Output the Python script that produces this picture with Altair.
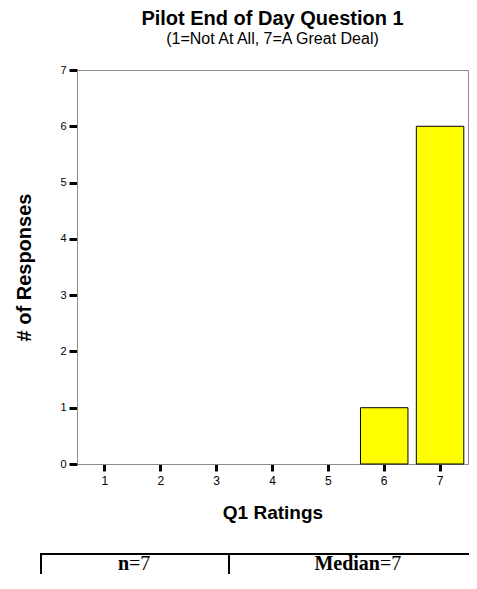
import altair as alt
import pandas as pd

# ---- data ----
ratings = ["1", "2", "3", "4", "5", "6", "7"]
counts = [0, 0, 0, 0, 0, 1, 6]
y_ticks = [0, 1, 2, 3, 4, 5, 6, 7]
title_text = "Pilot End of Day Question 1"
subtitle_text = "(1=Not At All, 7=A Great Deal)"
x_title = "Q1 Ratings"
y_title = "# of Responses"
n_label = "n"
median_label = "Median"
n_value = 7
median_value = 7

df = pd.DataFrame({"rating": ratings, "count": counts})
one = pd.DataFrame({"k": [0]})

W, H = 391, 394
SANS = "Liberation Sans"
SERIF = "Liberation Serif"
GREY = "#8c8c8c"

bars = (
    alt.Chart(df)
    .transform_filter("datum.count > 0")
    .mark_bar(color="#FFFF00", stroke="black", strokeWidth=1)
    .encode(
        x=alt.X(
            "rating:O",
            scale=alt.Scale(domain=ratings, paddingInner=0.15, paddingOuter=0.075),
            axis=alt.Axis(
                title=x_title,
                labelAngle=0,
                labelFontSize=12,
                labelPadding=4,
                tickSize=7,
                titlePadding=17,
                titleFontSize=19,
            ),
        ),
        y=alt.Y(
            "count:Q",
            scale=alt.Scale(domain=[0, 7], nice=False),
            axis=alt.Axis(
                title=y_title,
                values=y_ticks,
                format="d",
                labelFontSize=11,
                labelPadding=3,
                tickSize=8,
                titlePadding=25,
                titleFontSize=20,
            ),
        ),
    )
)

lw = 2
LINE_Y = 484
hline = alt.Chart(one).mark_rule(color="black", strokeWidth=lw).encode(
    x=alt.value(-36), x2=alt.value(W + 20), y=alt.value(LINE_Y)
)
vleft = alt.Chart(one).mark_rule(color="black", strokeWidth=lw).encode(
    x=alt.value(-36), y=alt.value(LINE_Y - 1), y2=alt.value(H + 140)
)
vmid = alt.Chart(one).mark_rule(color="black", strokeWidth=lw).encode(
    x=alt.value(152), y=alt.value(LINE_Y - 1), y2=alt.value(H + 140)
)

FS = 20
TY = 500
n_split = 52
m_split = 303
n_bold = alt.Chart(one).mark_text(
    text=n_label, font=SERIF, fontSize=FS, fontWeight="bold", align="right", baseline="alphabetic", color="black"
).encode(x=alt.value(n_split), y=alt.value(TY))
n_reg = alt.Chart(one).mark_text(
    text=f"={n_value}", font=SERIF, fontSize=FS, align="left", baseline="alphabetic", color="black"
).encode(x=alt.value(n_split), y=alt.value(TY))
m_bold = alt.Chart(one).mark_text(
    text=median_label, font=SERIF, fontSize=FS, fontWeight="bold", align="right", baseline="alphabetic", color="black"
).encode(x=alt.value(m_split), y=alt.value(TY))
m_reg = alt.Chart(one).mark_text(
    text=f"={median_value}", font=SERIF, fontSize=FS, align="left", baseline="alphabetic", color="black"
).encode(x=alt.value(m_split), y=alt.value(TY))

chart = (
    alt.layer(bars, hline, vleft, vmid, n_bold, n_reg, m_bold, m_reg)
    .properties(
        width=W,
        height=H,
        background="white",
        title=alt.TitleParams(
            text=title_text,
            subtitle=subtitle_text,
            anchor="middle",
            font=SANS,
            fontSize=20,
            fontWeight="bold",
            color="black",
            subtitleFont=SANS,
            subtitleFontSize=16,
            subtitleColor="black",
            subtitlePadding=2,
            offset=17,
        ),
        autosize=alt.AutoSizeParams(type="none"),
        padding={"left": 69, "top": 62, "right": 1, "bottom": 110},
    )
    .configure_view(stroke=GREY, strokeWidth=1)
    .configure_axis(
        grid=False,
        domainColor=GREY,
        domainWidth=1,
        tickColor="black",
        tickWidth=3,
        labelFont=SANS,
        labelColor="black",
        titleFont=SANS,
        titleFontWeight="bold",
        titleColor="black",
    )
)

chart.save("out.html", embed_options={"renderer": "svg", "actions": False})
